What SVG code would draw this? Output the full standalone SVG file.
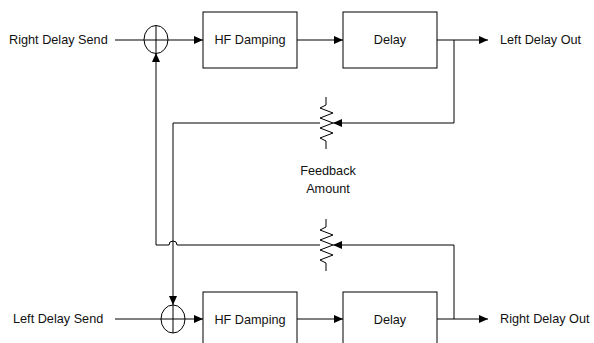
<svg xmlns="http://www.w3.org/2000/svg" width="594" height="343" viewBox="0 0 594 343">
<defs>
<marker id="ah" markerWidth="10" markerHeight="8" refX="9" refY="4" orient="auto" markerUnits="userSpaceOnUse">
<path d="M0,0 L9,4 L0,8 Z" fill="#000"/>
</marker>
<style>
.ln{fill:none;stroke:#000;stroke-width:1}
.box{fill:#fff;stroke:#000;stroke-width:1}
.sum{fill:none;stroke:#000;stroke-width:1}
text{font-family:"Liberation Sans",Arial,sans-serif;font-size:12.7px;fill:#111}
.c{text-anchor:middle}
</style>
</defs>
<rect width="594" height="343" fill="#fff"/>
<g id="connectors">
<!-- top row -->
<line class="ln" x1="115" y1="40" x2="203" y2="40" marker-end="url(#ah)"/>
<line class="ln" x1="297" y1="40" x2="343" y2="40" marker-end="url(#ah)"/>
<line class="ln" x1="437" y1="40" x2="488" y2="40" marker-end="url(#ah)"/>
<polyline class="ln" points="454,40 454,123 333,123" marker-end="url(#ah)"/>
<polyline class="ln" points="320,123 173,123 173,305" marker-end="url(#ah)"/>
<!-- bottom row -->
<line class="ln" x1="115" y1="319" x2="203" y2="319" marker-end="url(#ah)"/>
<line class="ln" x1="297" y1="319" x2="343" y2="319" marker-end="url(#ah)"/>
<line class="ln" x1="437" y1="319" x2="488" y2="319" marker-end="url(#ah)"/>
<polyline class="ln" points="454,319 454,245 333,245" marker-end="url(#ah)"/>
<path class="ln" d="M320,245 L177,245 A4,4 0 0 0 169,245 L156,245 L156,53" marker-end="url(#ah)"/>
</g>
<g id="sum-top">
<ellipse class="sum" cx="156" cy="39.5" rx="12" ry="14"/>
<line class="ln" x1="156" y1="25.5" x2="156" y2="53.5"/>
</g>
<g id="sum-bottom">
<ellipse class="sum" cx="173" cy="319" rx="12" ry="14"/>
<line class="ln" x1="173" y1="305" x2="173" y2="333"/>
</g>
<g id="hf-top">
<rect class="box" x="203" y="12" width="94" height="56"/>
<text class="c" x="250" y="44">HF Damping</text>
</g>
<g id="delay-top">
<rect class="box" x="343" y="12" width="94" height="56"/>
<text class="c" x="390" y="44">Delay</text>
</g>
<g id="hf-bottom">
<rect class="box" x="203" y="292" width="94" height="56"/>
<text class="c" x="250" y="324">HF Damping</text>
</g>
<g id="delay-bottom">
<rect class="box" x="343" y="292" width="94" height="56"/>
<text class="c" x="390" y="324">Delay</text>
</g>
<g id="pot-top">
<polyline class="ln" points="326,97 326,105 320,108 333,113 320,118 333,123 320,128 333,133 320,138 326,141 326,149"/>
</g>
<g id="pot-bottom">
<polyline class="ln" points="326,219 326,227 320,230 333,235 320,240 333,245 320,250 333,255 320,260 326,263 326,271"/>
</g>
<g id="labels">
<text x="9" y="44">Right Delay Send</text>
<text x="500" y="44">Left Delay Out</text>
<text x="13" y="323">Left Delay Send</text>
<text x="500" y="323">Right Delay Out</text>
<text class="c" x="328" y="175">Feedback</text>
<text class="c" x="328" y="193">Amount</text>
</g>
</svg>
